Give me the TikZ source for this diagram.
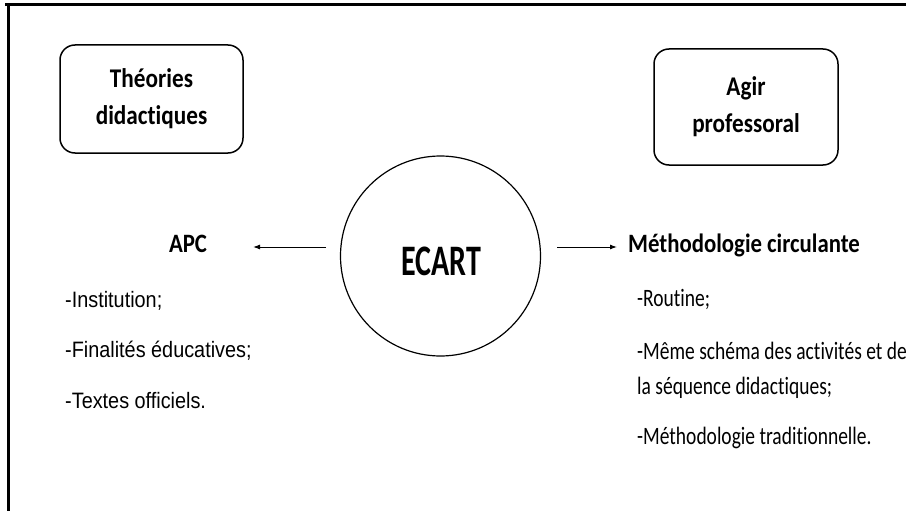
\documentclass[tikz,border=0pt]{standalone}
\usepackage{fontspec}
\setmainfont{Carlito}[FakeStretch=0.78, Ligatures=NoCommon]
\newfontfamily\headfont{Carlito}[FakeStretch=0.86, Ligatures=NoCommon]
\newfontfamily\ecartfont{Carlito}[FakeStretch=0.69]
\newfontfamily\listfont{Liberation Sans}[FakeStretch=0.89]
\usetikzlibrary{arrows.meta}
\tikzset{
  titlebox/.style={draw, line width=1.5pt, rounded corners=15pt, align=center,
    font=\headfont\bfseries\fontsize{27}{37}\selectfont},
  headtext/.style={anchor=base, inner sep=0pt, font=\headfont\bfseries\fontsize{26.5}{30}\selectfont},
  lefttext/.style={anchor=base west, inner sep=0pt, font=\listfont\fontsize{22.3}{26}\selectfont},
  righttext/.style={anchor=base west, inner sep=0pt, font=\fontsize{25}{28}\selectfont},
  arrowline/.style={line width=1pt, -{Latex[length=7pt,width=5pt]}}
}
\begin{document}
\begin{tikzpicture}[x=1pt,y=-1pt]
  \useasboundingbox (0,0) rectangle (906,511);
  % frame
  \draw[line width=3pt] (5,5) -- (906,5);
  \draw[line width=3pt] (8,5) -- (8,511);
  % boxes
  \node[titlebox, minimum width=183pt, minimum height=108pt] (theo) at (151.5,99) {Théories\\didactiques};
  \node[titlebox, minimum width=184pt, minimum height=116pt] (agir) at (746,107) {Agir\\professoral};
  % center
  \node[draw, circle, line width=1.2pt, minimum size=200pt, inner sep=0pt] (ecart) at (440.5,256) {};
  \node[font=\ecartfont\bfseries\fontsize{43.5}{46}\selectfont] (ecarttxt) at (441,261) {ECART};
  % left side
  \node[headtext] (apc) at (188,252) {APC};
  \coordinate (lfrom) at (326,247);
  \coordinate (lto) at (253,247);
  \draw[arrowline] (lfrom) -- (lto);
  \node[lefttext] (inst) at (65,307) {-Institution;};
  \node[lefttext] (fin) at (65,357) {-Finalités éducatives;};
  \node[lefttext] (tex) at (65,408) {-Textes officiels.};
  % right side
  \node[headtext, anchor=base west] (meth) at (628,252) {Méthodologie circulante};
  \coordinate (rfrom) at (557,247);
  \coordinate (rto) at (617,247);
  \draw[arrowline] (rfrom) -- (rto);
  \node[righttext] (rout) at (637,306) {-Routine;};
  \node[righttext] (meme) at (637,359) {-Même schéma des activités et de};
  \node[righttext] (seq) at (637,394) {la séquence didactiques;};
  \node[righttext] (trad) at (637,444) {-Méthodologie traditionnelle.};
\end{tikzpicture}
\end{document}
